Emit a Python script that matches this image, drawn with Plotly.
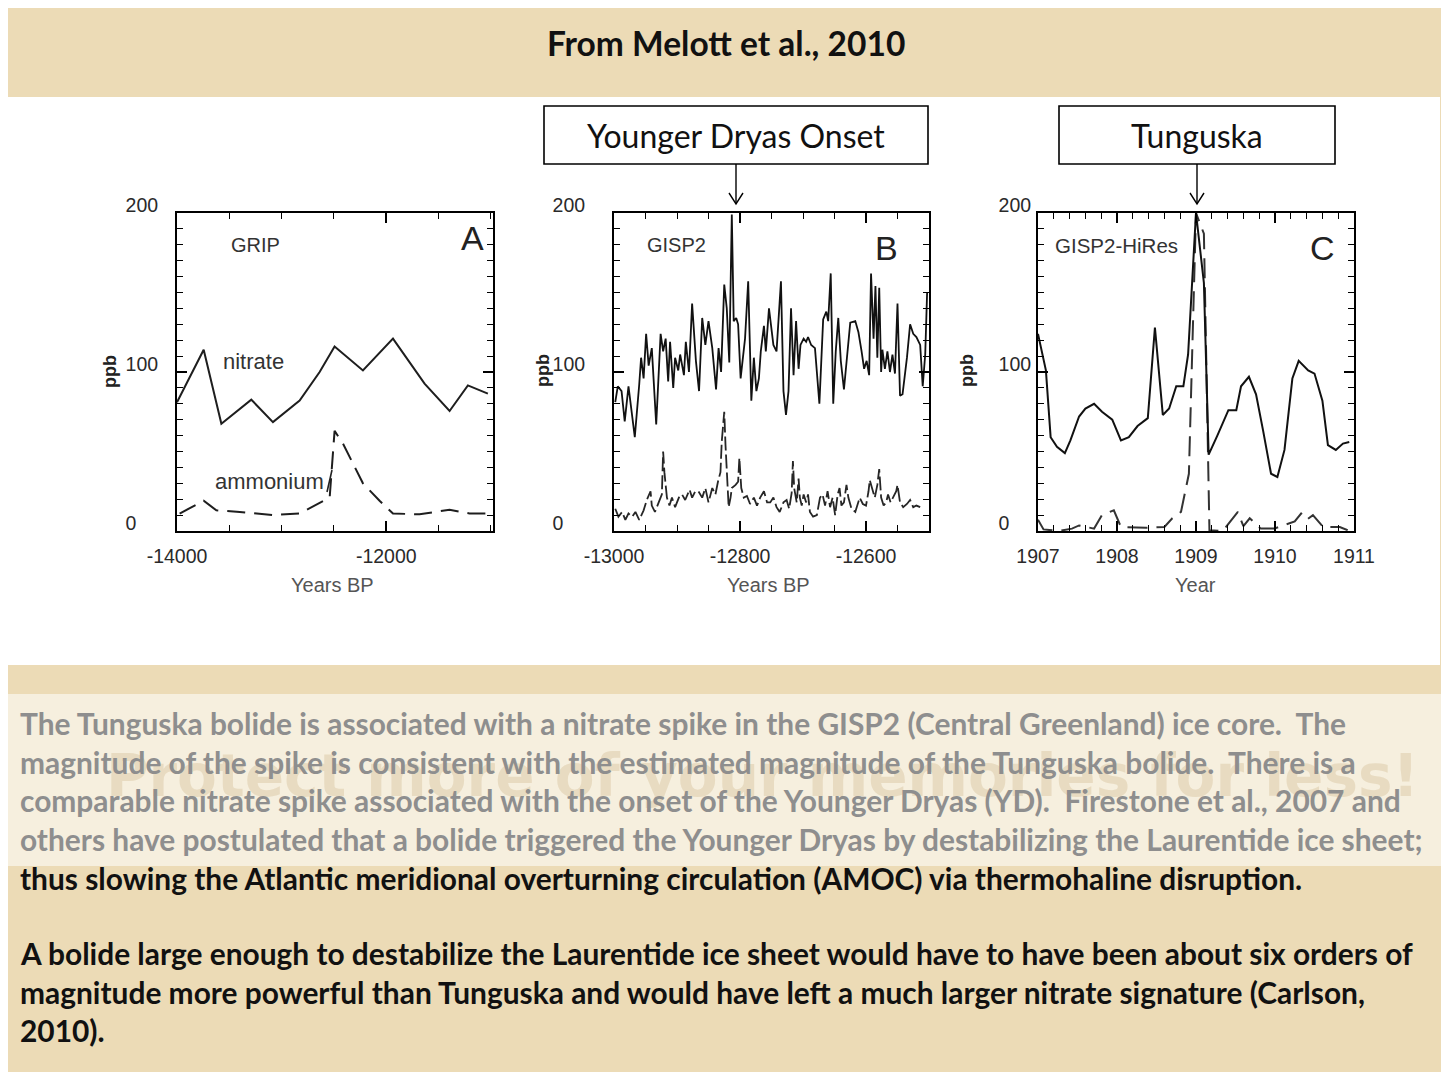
import plotly.graph_objects as go

# The page body has an 8px margin, so the figure is drawn 8px smaller on each side
OFF = 8
W, H = 1449 - 2 * OFF, 1080 - 2 * OFF

# ---------------- DATA ----------------
# Panel A: GRIP
grip_years_nitrate = [-14000, -13745, -13576, -13290, -13083, -12828, -12637, -12494,
                      -12223, -11936, -11634, -11395, -11220, -11029]
grip_nitrate = [81, 114, 67.5, 82.6, 68.5, 82, 100, 116, 101, 121, 92.7, 75.5, 91.6, 86.4]
grip_years_ammonium = [-13975, -13745, -13624, -13400, -13083, -12828, -12541, -12494,
                       -12414, -12223, -12064, -11936, -11682, -11395, -11204, -11010]
grip_ammonium = [11, 19, 13, 12, 10, 11, 21, 63, 55, 30, 19, 11, 10.5, 13.4, 11, 11]

# Panel B: GISP2
gisp2_years_nitrate = [-12998, -12994, -12988, -12983, -12977, -12967, -12960, -12957, -12953,
                       -12949, -12945, -12940, -12933, -12926, -12922, -12918, -12914, -12911,
                       -12906, -12903, -12898, -12895, -12889, -12886, -12881, -12876, -12870,
                       -12865, -12860, -12855, -12850, -12844, -12838, -12834, -12830, -12825,
                       -12821, -12817, -12813, -12810, -12806, -12803, -12799, -12794, -12792,
                       -12787, -12782, -12778, -12774, -12770, -12767, -12762, -12759, -12754,
                       -12747, -12742, -12735, -12731, -12727, -12723, -12719, -12715, -12711,
                       -12707, -12704, -12699, -12695, -12692, -12687, -12681, -12674, -12668,
                       -12663, -12660, -12656, -12652, -12648, -12644, -12640, -12635, -12625,
                       -12617, -12612, -12607, -12603, -12599, -12595, -12592, -12588, -12585,
                       -12582, -12579, -12576, -12574, -12570, -12566, -12562, -12558, -12554,
                       -12550, -12546, -12542, -12535, -12530, -12525, -12520, -12514, -12510,
                       -12506, -12503]
gisp2_nitrate = [81, 91, 88, 69, 91, 59, 92, 109, 96,
                 124, 104, 115, 67, 124, 113, 121, 94, 119,
                 90, 109, 101, 111, 98, 119, 100, 143, 107,
                 88, 134, 117, 132, 115, 89, 115, 100, 155,
                 140, 106, 199, 132, 134, 130, 96, 115, 121,
                 157, 82, 109, 88, 96, 113, 129, 113, 140,
                 117, 113, 157, 88, 73, 88, 140, 98, 132,
                 102, 117, 121, 119, 122, 117, 115, 80, 133,
                 138, 132, 162, 80, 113, 134, 107, 89, 131,
                 132, 125, 113, 102, 107, 98, 162, 121, 154,
                 109, 153, 100, 114, 102, 113, 100, 111, 99,
                 143, 85, 86, 109, 130, 124, 122, 117, 91,
                 111, 150]
gisp2_years_ammonium = [-12998, -12993, -12987, -12982, -12977, -12971, -12966, -12960, -12953,
                        -12948, -12942, -12940, -12935, -12929, -12924, -12922, -12920, -12916,
                        -12912, -12908, -12903, -12897, -12892, -12887, -12880, -12876, -12871,
                        -12866, -12860, -12855, -12850, -12844, -12839, -12835, -12831, -12829,
                        -12825, -12823, -12821, -12818, -12815, -12813, -12807, -12803, -12801,
                        -12798, -12794, -12789, -12784, -12778, -12773, -12768, -12762, -12757,
                        -12752, -12747, -12742, -12737, -12731, -12726, -12722, -12718, -12716,
                        -12714, -12710, -12707, -12705, -12702, -12699, -12695, -12692, -12689,
                        -12684, -12678, -12673, -12669, -12665, -12661, -12657, -12653, -12649,
                        -12645, -12642, -12639, -12635, -12631, -12628, -12623, -12617, -12614,
                        -12610, -12605, -12600, -12596, -12594, -12589, -12586, -12582, -12579,
                        -12576, -12572, -12568, -12565, -12561, -12557, -12552, -12550, -12546,
                        -12541, -12535, -12530, -12525, -12520, -12514]
gisp2_ammonium = [14, 9, 12, 7, 11, 9, 12, 7, 13,
                  19.5, 25, 16, 12, 18, 23, 50, 37, 21,
                  16, 21, 15, 21, 23, 19.5, 26, 21, 25,
                  25, 21, 27, 18, 27, 23, 31, 37, 56,
                  75, 54, 37, 15, 21, 27, 29, 31, 46,
                  27, 21, 22, 17, 21, 16, 21, 25, 18,
                  18, 21, 15, 12, 18, 19.5, 14, 24, 44,
                  27, 18, 33, 21, 16, 23, 18, 23, 12,
                  9, 10, 21, 23, 16, 25, 15, 21, 10,
                  23, 27, 16, 18, 29, 21, 14, 12, 16,
                  21, 17, 16, 25, 32, 25, 21, 29, 39,
                  21, 16, 18, 23, 18, 21, 25, 29, 18,
                  15, 17, 19.5, 15, 16, 15]

# Panel C: GISP2-HiRes
hires_years_nitrate = [1907.00, 1907.10, 1907.16, 1907.24, 1907.34, 1907.41, 1907.52, 1907.60,
                       1907.71, 1907.81, 1907.94, 1908.05, 1908.15, 1908.26, 1908.39, 1908.48,
                       1908.58, 1908.66, 1908.75, 1908.84, 1908.90, 1909.00, 1909.10, 1909.16,
                       1909.27, 1909.41, 1909.51, 1909.57, 1909.67, 1909.76, 1909.85, 1909.95,
                       1910.03, 1910.12, 1910.22, 1910.30, 1910.42, 1910.50, 1910.60, 1910.67,
                       1910.77, 1910.86, 1910.94]
hires_nitrate = [124, 101, 59, 53, 49, 57, 72, 77,
                 80, 75, 70, 57, 59, 66, 71, 128,
                 73, 77, 91, 91, 111, 200, 156, 48,
                 60, 76, 76, 91, 97, 86, 63, 36,
                 34, 51, 96, 107, 101, 99, 82, 54,
                 51, 55, 56]
hires_years_ammonium = [1907.00, 1907.07, 1907.26, 1907.43, 1907.52, 1907.62, 1907.71, 1907.81,
                        1907.96, 1908.05, 1908.37, 1908.60, 1908.70, 1908.81, 1908.91, 1909.00,
                        1909.10, 1909.17, 1909.34, 1909.53, 1909.60, 1909.68, 1909.82, 1909.99,
                        1910.17, 1910.25, 1910.33, 1910.40, 1910.48, 1910.61, 1910.82, 1910.92]
hires_ammonium = [7, 1, 0, 1.5, 3.5, 2.5, 1.5, 10,
                  13, 2.5, 2, 2.5, 8, 12, 36, 200,
                  187, 0.5, 0, 12, 3, 8, 1.5, 1.5,
                  4.5, 6, 11, 7, 10, 2.5, 2.5, 0.5]

y_ticks = [0, 100, 200]
y_ticktext = ["0\u2007\u2007", "100", "200"]
a_xticks = [-14000, -12000]
a_xticktext = ["-14000", "-12000"]
b_xticks = [-13000, -12800, -12600]
b_xticktext = ["-13000", "-12800", "-12600"]
c_xticks = [1907, 1908, 1909, 1910, 1911]
c_xticktext = ["1907", "1908", "1909", "1910", "1911"]

body_lines = [
    ("The Tunguska bolide is associated with a nitrate spike in the GISP2 (Central Greenland) ice core.  The", "#8e8e8e", 723),
    ("magnitude of the spike is consistent with the estimated magnitude of the Tunguska bolide.  There is a", "#8e8e8e", 762),
    ("comparable nitrate spike associated with the onset of the Younger Dryas (YD).  Firestone et al., 2007 and", "#8e8e8e", 800),
    ("others have postulated that a bolide triggered the Younger Dryas by destabilizing the Laurentide ice sheet;", "#8e8e8e", 839),
    ("thus slowing the Atlantic meridional overturning circulation (AMOC) via thermohaline disruption.", "#111111", 878),
    ("A bolide large enough to destabilize the Laurentide ice sheet would have to have been about six orders of", "#111111", 953),
    ("magnitude more powerful than Tunguska and would have left a much larger nitrate signature (Carlson,", "#111111", 992),
    ("2010).", "#111111", 1030),
]

# ---------------- HELPERS ----------------
def px(x):
    return (x - OFF) / W

def py(y):
    return 1 - (y - OFF) / H

TICKFONT = dict(family="Liberation Sans, Arial", size=19.5, color="#2a2a2a")

fig = go.Figure()

fig.add_trace(go.Scatter(x=grip_years_nitrate, y=grip_nitrate, mode="lines",
                         line=dict(color="#1e1e1e", width=2), xaxis="x", yaxis="y", showlegend=False))
fig.add_trace(go.Scatter(x=grip_years_ammonium, y=grip_ammonium, mode="lines",
                         line=dict(color="#1e1e1e", width=2, dash="18px,9px"), xaxis="x", yaxis="y", showlegend=False))
fig.add_trace(go.Scatter(x=gisp2_years_ammonium, y=gisp2_ammonium, mode="lines",
                         line=dict(color="#262626", width=1.8, dash="14px,4px"), xaxis="x2", yaxis="y2", showlegend=False))
fig.add_trace(go.Scatter(x=gisp2_years_nitrate, y=gisp2_nitrate, mode="lines",
                         line=dict(color="#111111", width=1.8), xaxis="x2", yaxis="y2", showlegend=False))
fig.add_trace(go.Scatter(x=hires_years_ammonium, y=hires_ammonium, mode="lines",
                         line=dict(color="#333333", width=2, dash="20px,9px"), xaxis="x3", yaxis="y3", showlegend=False))
fig.add_trace(go.Scatter(x=hires_years_nitrate, y=hires_nitrate, mode="lines",
                         line=dict(color="#111111", width=2), xaxis="x3", yaxis="y3", showlegend=False))

ydom = [py(531), py(213)]

def xaxis_cfg(dom, rng, tickvals, ticktext, minor_dtick, anchor):
    return dict(domain=dom, range=rng, anchor=anchor, tickmode="array", tickvals=tickvals,
                ticktext=ticktext, ticks="inside", ticklen=10, tickwidth=1.6, tickcolor="black",
                showline=True, linecolor="black", linewidth=2, mirror="allticks",
                showgrid=False, zeroline=False, tickfont=TICKFONT, ticklabelstandoff=7,
                minor=dict(dtick=minor_dtick, ticks="inside", ticklen=6, tickwidth=1.4, tickcolor="black"),
                fixedrange=True)

def yaxis_cfg(anchor, standoff):
    return dict(domain=ydom, range=[0, 200], anchor=anchor, tickmode="array", tickvals=y_ticks,
                ticktext=y_ticktext, ticks="inside", ticklen=10, tickwidth=1.6, tickcolor="black",
                showline=True, linecolor="black", linewidth=2, mirror="allticks",
                showgrid=False, zeroline=False, tickfont=TICKFONT, ticklabelstandoff=standoff,
                ticklabelshift=-8,
                minor=dict(dtick=10, ticks="inside", ticklen=6, tickwidth=1.4, tickcolor="black"),
                fixedrange=True)

fig.update_layout(
    width=W, height=H, margin=dict(l=0, r=0, t=0, b=0, autoexpand=False),
    paper_bgcolor="#ecdbb6", plot_bgcolor="white",
    xaxis=xaxis_cfg([px(177), px(493)], [-14000, -10980], a_xticks, a_xticktext, 500, "y"),
    yaxis=yaxis_cfg("x", 13),
    xaxis2=xaxis_cfg([px(614), px(929)], [-13000, -12500], b_xticks, b_xticktext, 50, "y2"),
    yaxis2=yaxis_cfg("x2", 23),
    xaxis3=xaxis_cfg([px(1038), px(1354)], [1907, 1911], c_xticks, c_xticktext, 0.2, "y3"),
    yaxis3=yaxis_cfg("x3", 1),
)

shapes = []
# white figure panel
shapes.append(dict(type="rect", xref="paper", yref="paper", x0=px(5), x1=px(1440), y0=py(665), y1=py(97),
                   fillcolor="white", line=dict(width=0), layer="below"))
# light text band
shapes.append(dict(type="rect", xref="paper", yref="paper", x0=px(5), x1=px(1449), y0=py(866), y1=py(694),
                   fillcolor="rgba(255,255,255,0.55)", line=dict(width=0), layer="below"))
# label boxes
for (x0, x1) in [(544, 928), (1059, 1335)]:
    shapes.append(dict(type="rect", xref="paper", yref="paper", x0=px(x0), x1=px(x1), y0=py(164), y1=py(106),
                       fillcolor="white", line=dict(color="black", width=1.6)))
# arrows
for xc in [736, 1197]:
    shapes.append(dict(type="line", xref="paper", yref="paper", x0=px(xc), x1=px(xc), y0=py(164), y1=py(204),
                       line=dict(color="black", width=1.4)))
    shapes.append(dict(type="path", xref="paper", yref="paper",
                       path=f"M {px(xc-7)},{py(193)} L {px(xc)},{py(204)} L {px(xc+7)},{py(193)}",
                       line=dict(color="black", width=1.4)))
# ammonium leader line in panel A
shapes.append(dict(type="line", xref="paper", yref="paper", x0=px(327), x1=px(332), y0=py(492), y1=py(470),
                   line=dict(color="#222", width=1.6)))
fig.update_layout(shapes=shapes)

ann = []
def text(x, y, s, size, color="#222", family="Liberation Sans, Arial", xanchor="center", bold=False, angle=0):
    if bold:
        s = f"<b>{s}</b>"
    ann.append(dict(x=px(x), y=py(y), xref="paper", yref="paper", text=s, showarrow=False,
                    xanchor=xanchor, yanchor="middle", textangle=angle,
                    font=dict(family=family, size=size, color=color)))

# faint watermark behind the text
text(762, 776, "Protect more of your memories for less!", 58, color="rgba(196,168,118,0.28)",
     family="DejaVu Sans", bold=True)
# title
text(726, 43, "From Melott et al., 2010", 33.5, color="#111", family="Lato", bold=True)
# boxes
text(736, 135, "Younger Dryas Onset", 32, color="#111", family="Lato")
text(1197, 135, "Tunguska", 32, color="#111", family="Lato")
# panel labels
text(255, 245, "GRIP", 20, color="#333")
text(472, 238, "A", 34, color="#222")
text(253, 362, "nitrate", 22, color="#333")
text(269, 481, "ammonium", 22, color="#333")
text(676, 245, "GISP2", 20, color="#333")
text(886, 248, "B", 34, color="#222")
text(1116, 245, "GISP2-HiRes", 20.5, color="#333")
text(1322, 248, "C", 34, color="#222")
# axis titles
for xc in [332, 768]:
    text(xc, 585, "Years BP", 20, color="#555")
text(1195, 585, "Year", 20, color="#555")
for xc in [110, 543, 967]:
    text(xc, 371, "ppb", 18, color="#222", bold=True, angle=-90)
# body text
for s, c, y in body_lines:
    text(18, y, s, 29.9, color=c, family="Lato", xanchor="left", bold=True)

fig.update_layout(annotations=ann)
fig.write_html("out.html")
